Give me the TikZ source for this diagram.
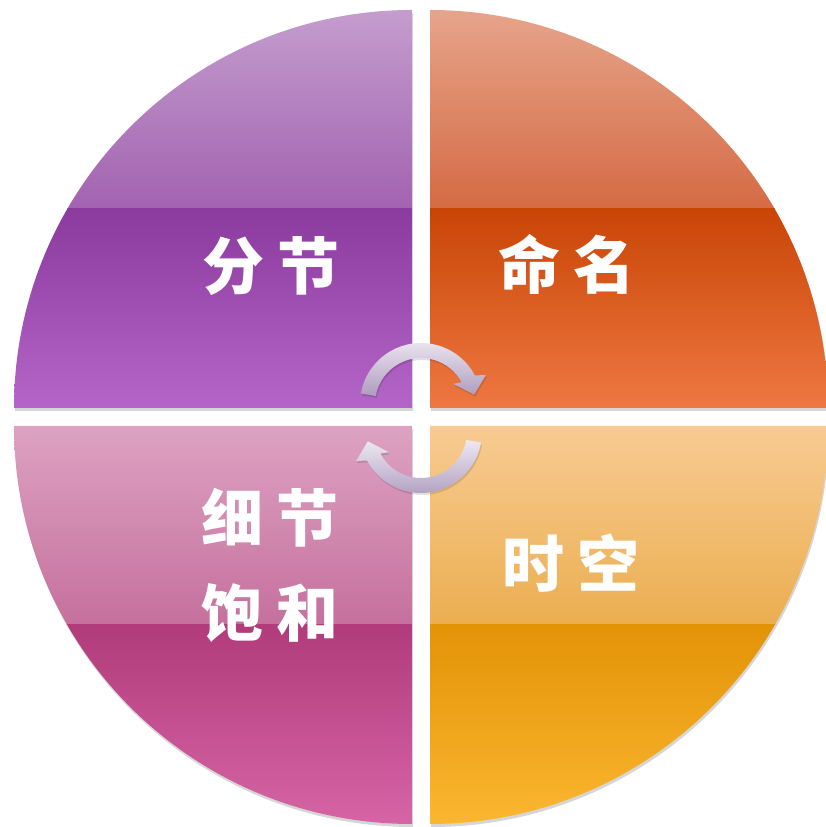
\documentclass[tikz,border=0pt]{standalone}
\usepackage{fontspec}
\newfontfamily\cjk{Noto Sans CJK SC}
\usetikzlibrary{positioning}
\definecolor{purpA}{HTML}{C49DCE}
\definecolor{purpB}{HTML}{A262B0}
\definecolor{purpC}{HTML}{8B3A9D}
\definecolor{purpD}{HTML}{B466C8}
\definecolor{orngA}{HTML}{E6A48A}
\definecolor{orngB}{HTML}{D56A44}
\definecolor{orngC}{HTML}{C94506}
\definecolor{orngD}{HTML}{EE7842}
\definecolor{pinkA}{HTML}{DDA2C2}
\definecolor{pinkB}{HTML}{C5709D}
\definecolor{pinkC}{HTML}{B13B7B}
\definecolor{pinkD}{HTML}{D665A6}
\definecolor{ambrA}{HTML}{F8CB92}
\definecolor{ambrB}{HTML}{EBAE50}
\definecolor{ambrC}{HTML}{E39306}
\definecolor{ambrD}{HTML}{FBB630}
\definecolor{arrA}{HTML}{EEE8F2}
\definecolor{arrB}{HTML}{AE9CBE}

\begin{document}
\begin{tikzpicture}[x=1pt,y=1pt,
  qtext/.style={text=white,font=\cjk\bfseries\fontsize{62}{95}\selectfont,align=center},
  qshadow/.style={fill=black,opacity=0.16,xshift=1pt,yshift=-3pt},
  ashadow/.style={fill=black,opacity=0.12,xshift=1pt,yshift=-2pt}]
  \useasboundingbox (0,0) rectangle (825,827);
  % ---- shadows under the four quarters ----
  \fill[qshadow] (412,419) -- (14,419) arc[start angle=180,end angle=90,radius=398] -- cycle;
  \fill[qshadow] (430,419) -- (430,817) arc[start angle=90,end angle=0,radius=398] -- cycle;
  \fill[qshadow] (412,401) -- (412,3) arc[start angle=270,end angle=180,radius=398] -- cycle;
  \fill[qshadow] (430,401) -- (828,401) arc[start angle=0,end angle=-90,radius=398] -- cycle;
  % ---- top left: purple ----
  \begin{scope}
    \clip (412,419) -- (14,419) arc[start angle=180,end angle=90,radius=398] -- cycle;
    \shade[top color=purpA,bottom color=purpB] (14,618) rectangle (412,817);
    \shade[top color=purpC,bottom color=purpD] (14,419) rectangle (412,618);
  \end{scope}
  % ---- top right: orange ----
  \begin{scope}
    \clip (430,419) -- (430,817) arc[start angle=90,end angle=0,radius=398] -- cycle;
    \shade[top color=orngA,bottom color=orngB] (430,618) rectangle (828,817);
    \shade[top color=orngC,bottom color=orngD] (430,419) rectangle (828,618);
  \end{scope}
  % ---- bottom left: pink ----
  \begin{scope}
    \clip (412,401) -- (412,3) arc[start angle=270,end angle=180,radius=398] -- cycle;
    \shade[top color=pinkA,bottom color=pinkB] (14,202) rectangle (412,401);
    \shade[top color=pinkC,bottom color=pinkD] (14,3) rectangle (412,202);
  \end{scope}
  % ---- bottom right: amber ----
  \begin{scope}
    \clip (430,401) -- (828,401) arc[start angle=0,end angle=-90,radius=398] -- cycle;
    \shade[top color=ambrA,bottom color=ambrB] (430,202) rectangle (828,401);
    \shade[top color=ambrC,bottom color=ambrD] (430,3) rectangle (828,202);
  \end{scope}
  % ---- labels ----
  \node[qtext] (fenjie) at (271,561) {分\hspace{14pt}节};
  \node[qtext] (mingming) at (567,563) {命\hspace{14pt}名};
  \node[qtext] (xijie) at (270,262) {细\hspace{14pt}节\\饱\hspace{14pt}和};
  \node[qtext] (shikong) at (571,264) {时\hspace{14pt}空};
  % ---- circular arrows in the middle ----
  \begin{scope}[shift={(421,423)}]
    \fill[ashadow] (170:61) arc[start angle=170,end angle=28,radius=61] -- (24:71) -- (10:54)
          -- (32:38) -- (28:46) arc[start angle=28,end angle=170,radius=46] -- cycle;
    \shade[top color=arrA,bottom color=arrB] (170:61) arc[start angle=170,end angle=28,radius=61]
          -- (24:71) -- (10:54) -- (32:38) -- (28:46) arc[start angle=28,end angle=170,radius=46] -- cycle;
  \end{scope}
  \begin{scope}[shift={(421,395)}]
    \fill[ashadow] (-10:61) arc[start angle=-10,end angle=-152,radius=61] -- (-156:71) -- (-170:54)
          -- (-148:38) -- (-152:46) arc[start angle=-152,end angle=-10,radius=46] -- cycle;
    \shade[top color=arrA,bottom color=arrB] (-10:61) arc[start angle=-10,end angle=-152,radius=61]
          -- (-156:71) -- (-170:54) -- (-148:38) -- (-152:46) arc[start angle=-152,end angle=-10,radius=46] -- cycle;
  \end{scope}
\end{tikzpicture}
\end{document}
